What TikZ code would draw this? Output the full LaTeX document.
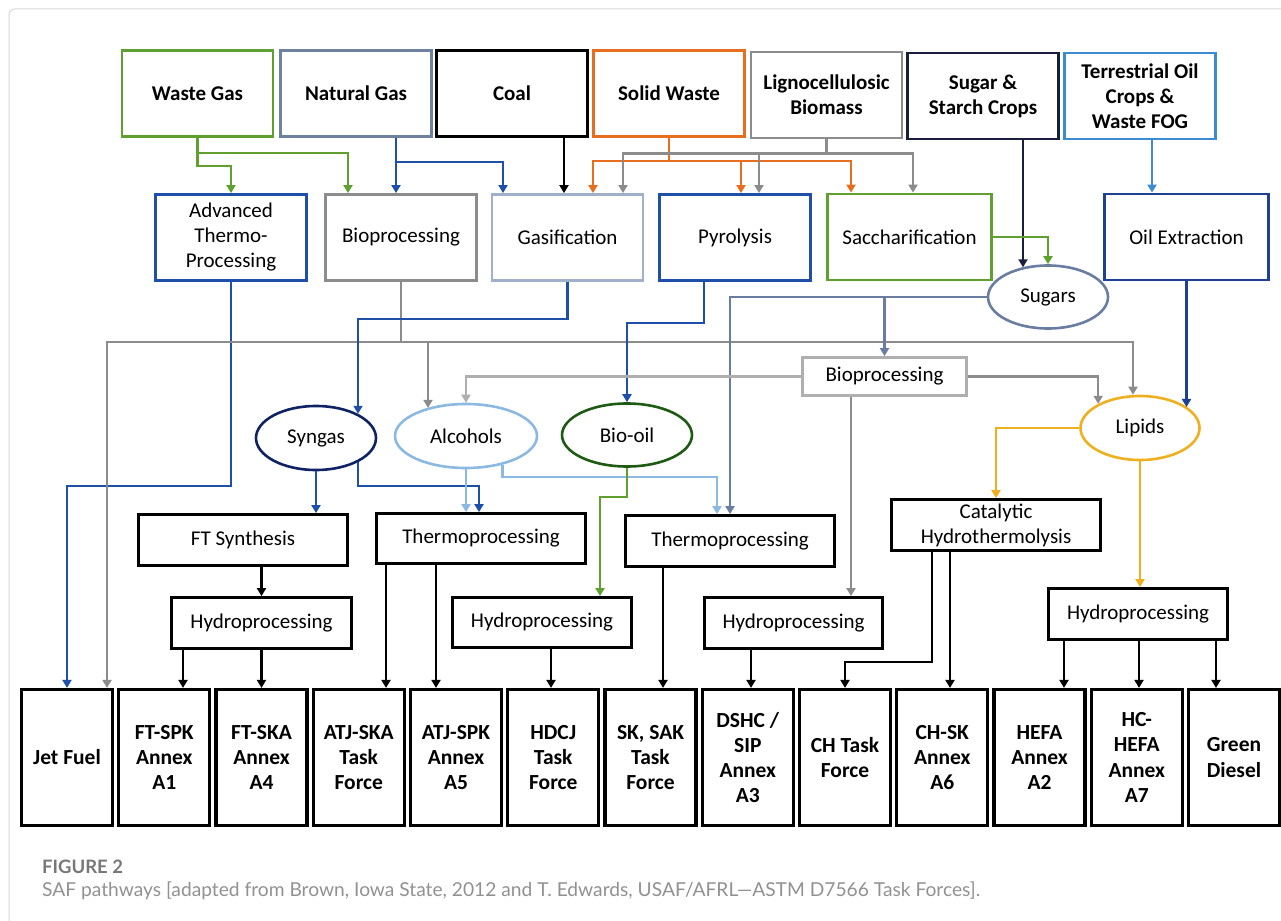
\documentclass[tikz,border=0pt]{standalone}
\usepackage{fontspec}
\setmainfont{Carlito}
\newfontfamily\capfont{Lato}
\usetikzlibrary{arrows.meta,shapes.geometric,calc}
\definecolor{cgreen}{RGB}{96,160,48}
\definecolor{cslate}{RGB}{110,130,160}
\definecolor{corange}{RGB}{230,110,30}
\definecolor{cgray}{RGB}{140,140,140}
\definecolor{cnavy}{RGB}{25,30,60}
\definecolor{cltblue}{RGB}{60,140,210}
\definecolor{cblue}{RGB}{30,80,170}
\definecolor{cgasif}{RGB}{160,176,200}
\definecolor{cdkblue}{RGB}{30,65,145}
\definecolor{csugar}{RGB}{105,125,160}
\definecolor{csyn}{RGB}{15,35,100}
\definecolor{calc}{RGB}{140,185,225}
\definecolor{cdkgreen}{RGB}{30,90,20}
\definecolor{cgold}{RGB}{240,175,30}
\definecolor{cltgray}{RGB}{175,175,175}
\definecolor{capgray}{RGB}{120,120,120}
\definecolor{capgray2}{RGB}{145,145,145}
\definecolor{framegray}{RGB}{215,215,215}
\tikzset{
  bx/.style={draw, line width=2.8pt, inner sep=1pt, align=center, font=\fontsize{21}{25}\selectfont},
  topbx/.style={bx, minimum width=151pt, minimum height=86pt, font=\bfseries\fontsize{21}{25}\selectfont},
  midbx/.style={bx, minimum width=151pt, minimum height=86pt},
  botbx/.style={draw, line width=3.2pt, inner sep=1pt, align=center, minimum width=91pt, minimum height=136pt, font=\bfseries\fontsize{21.5}{25.3}\selectfont},
  ell/.style={ellipse, draw, line width=2.6pt, inner sep=0pt, font=\fontsize{21}{25}\selectfont},
  arr/.style={-{Triangle[length=8pt,width=9pt]}, line width=2.6pt},
  ln/.style={line width=2.6pt}
}
\begin{document}
\begin{tikzpicture}[x=1pt,y=-1pt]
\useasboundingbox (0,0) rectangle (1281,920);
\draw[framegray, line width=1pt, rounded corners=6pt] (9,9) rectangle (1300,940);

% top row
\node[topbx, draw=cgreen] (wastegas) at (197.5,93.5) {Waste Gas};
\node[topbx, draw=cslate] (natgas) at (356,93.5) {Natural Gas};
\node[topbx, draw=black] (coal) at (512,93.5) {Coal};
\node[topbx, draw=corange] (solid) at (669,93.5) {Solid Waste};
\node[topbx, draw=cgray] (ligno) at (826.5,95) {Lignocellulosic\\Biomass};
\node[topbx, draw=cnavy] (sugarcrops) at (983,96) {Sugar \&\\Starch Crops};
\node[topbx, draw=cltblue] (terr) at (1140,96) {Terrestrial Oil\\Crops \&\\Waste FOG};

% second row
\node[midbx, draw=cblue] (adv) at (231,237.5) {Advanced\\Thermo-\\Processing};
\node[midbx, draw=cgray] (bioA) at (401,237.5) {Bioprocessing};
\node[midbx, draw=cgasif] (gasif) at (567.5,237.5) {Gasification};
\node[midbx, draw=cblue] (pyro) at (735,237.5) {Pyrolysis};
\node[midbx, draw=cgreen, minimum width=164pt] (sacch) at (909.5,237) {Saccharification};
\node[midbx, draw=cdkblue, minimum width=164pt] (oilex) at (1186.5,237) {Oil Extraction};

% ellipses
\node[ell, draw=csugar, minimum width=120pt, minimum height=63pt] (sugars) at (1048,297) {Sugars};
\node[ell, draw=csyn, minimum width=120pt, minimum height=64pt] (syngas) at (316,438) {Syngas};
\node[ell, draw=calc, minimum width=142pt, minimum height=64pt] (alcohols) at (466,436) {Alcohols};
\node[ell, draw=cdkgreen, minimum width=130pt, minimum height=63pt] (biooil) at (627,435) {Bio-oil};
\node[ell, draw=cgold, minimum width=119pt, minimum height=64pt] (lipids) at (1140,428) {Lipids};

\node[bx, draw=cltgray, minimum width=164pt, minimum height=38pt] (bioB) at (884.5,376.5) {Bioprocessing};

% processing boxes
\node[bx, minimum width=209pt, minimum height=51pt] (ftsyn) at (243,540) {FT Synthesis};
\node[bx, minimum width=209pt, minimum height=50pt] (thermoA) at (481,538.5) {Thermoprocessing};
\node[bx, minimum width=209pt, minimum height=51pt] (thermoB) at (730,541) {Thermoprocessing};
\node[bx, minimum width=209pt, minimum height=51pt] (catal) at (996,525) {Catalytic\\Hydrothermolysis};
\node[bx, minimum width=180pt, minimum height=51pt] (hydroA) at (261.5,623) {Hydroprocessing};
\node[bx, minimum width=179pt, minimum height=50pt] (hydroB) at (542,622.5) {Hydroprocessing};
\node[bx, minimum width=178pt, minimum height=51pt] (hydroC) at (793.5,623) {Hydroprocessing};
\node[bx, minimum width=179pt, minimum height=51pt] (hydroD) at (1138,614) {Hydroprocessing};

% bottom boxes
\node[botbx] (b0) at (67,757.5) {Jet Fuel};
\node[botbx] (b1) at (164.25,757.5) {FT-SPK\\Annex\\A1};
\node[botbx] (b2) at (261.5,757.5) {FT-SKA\\Annex\\A4};
\node[botbx] (b3) at (358.75,757.5) {ATJ-SKA\\Task\\Force};
\node[botbx] (b4) at (456,757.5) {ATJ-SPK\\Annex\\A5};
\node[botbx] (b5) at (553.25,757.5) {HDCJ\\Task\\Force};
\node[botbx] (b6) at (650.5,757.5) {SK, SAK\\Task\\Force};
\node[botbx] (b7) at (747.75,757.5) {DSHC /\\SIP\\Annex\\A3};
\node[botbx] (b8) at (845,757.5) {CH Task\\Force};
\node[botbx] (b9) at (942.25,757.5) {CH-SK\\Annex\\A6};
\node[botbx] (b10) at (1039.5,757.5) {HEFA\\Annex\\A2};
\node[botbx] (b11) at (1136.75,757.5) {HC-\\HEFA\\Annex\\A7};
\node[botbx] (b12) at (1234,757.5) {Green\\Diesel};

% top connectors
\draw[arr, cgreen] (wastegas.south) -- ++(0,15) -| ([xshift=-53pt]bioA.north);
\draw[arr, cgreen] (wastegas.south) -- ++(0,28) -| (adv.north);
\draw[arr, cblue] ([xshift=40pt]natgas.south) -- ([xshift=40pt]natgas.south |- bioA.north);
\draw[arr, cblue] ([xshift=40pt]natgas.south) -- ++(0,24) -| ([xshift=-64.5pt]gasif.north);
\draw[arr, black] ([xshift=52pt]coal.south) -- ([xshift=52pt]coal.south |- gasif.north);
\draw[ln, corange] (solid.south) -- ++(0,23) coordinate (sw);
\draw[arr, corange] (sw) -| ([xshift=25.5pt]gasif.north);
\draw[arr, corange] (sw) -| ([xshift=6pt]pyro.north);
\draw[arr, corange] (sw) -| ([xshift=-58.5pt]sacch.north);
\draw[ln, cgray] (ligno.south) -- ++(0,14) coordinate (lw);
\draw[arr, cgray] (lw) -| ([xshift=55.5pt]gasif.north);
\draw[arr, cgray] (lw) -| ([xshift=24pt]pyro.north);
\draw[arr, cgray] (lw) -| ([xshift=3.5pt]sacch.north);
\draw[arr, cnavy] ([xshift=40pt]sugarcrops.south) -- ([xshift=40pt]sugarcrops.south |- sugars.131);
\draw[arr, cgreen] (sacch.east) -| (sugars.north);
\draw[arr, cltblue] ([xshift=12pt]terr.south) -- ([xshift=12pt]terr.south |- oilex.north);

% middle connectors
\draw[arr, cblue] (adv.south) -- ++(0,204) -| (b0.north);
\draw[ln, cgray] (bioA.south) -- ++(0,60) coordinate (gj);
\draw[arr, cgray] (gj) -| ([xshift=40pt]b0.north);
\draw[arr, cgray] (gj) -| ([xshift=-7pt]lipids.north);
\draw[arr, cgray] ([xshift=27pt]bioA.south |- gj) -- ([xshift=27pt]bioA.south |- alcohols.144);
\draw[arr, cblue] (gasif.south) -- ++(0,37) -| (syngas.30);
\draw[arr, cblue] ([xshift=-31pt]pyro.south) -- ++(0,41) -| (biooil.north);
\draw[arr, csugar] (sugars.west) -| (thermoB.north);
\draw[arr, csugar] (sugars.west -| bioB.north) -- (bioB.north);
\draw[arr, cltgray] (bioB.west) -| (alcohols.north);
\draw[arr, cgray] (bioB.east) -| (lipids.150);
\draw[arr, cdkblue] (oilex.south) -- (oilex.south |- lipids.24);
\draw[arr, cgray] ([xshift=-33.5pt]bioB.south) -- ([xshift=-33.5pt]bioB.south |- hydroC.north);
\draw[arr, cgold] (lipids.west) -| (catal.north);
\draw[arr, cgold] (lipids.south) -- (lipids.south |- hydroD.north);
\draw[arr, cblue] (syngas.south) -- (syngas.south |- ftsyn.north);
\draw[arr, cblue] (syngas.-30) |- ($(thermoA.north)+(-2,-26)$) -- ($(thermoA.north)+(-2,0)$);
\draw[arr, calc] (alcohols.south) -- (alcohols.south |- thermoA.north);
\draw[arr, calc] (alcohols.-38) |- ($(thermoB.north)+(-13,-37)$) -- ($(thermoB.north)+(-13,0)$);
\draw[arr, cgreen] (biooil.south) |- ($(hydroB.north)+(58,-99)$) -- ($(hydroB.north)+(58,0)$);

% lower connectors
\draw[arr] (hydroA.north |- ftsyn.south) -- (hydroA.north);
\draw[arr] ([xshift=-78.5pt]hydroA.south) -- ([xshift=-78.5pt]hydroA.south |- b1.north);
\draw[arr] (hydroA.south) -- (hydroA.south |- b2.north);
\draw[arr] ([xshift=-95pt]thermoA.south) -- ([xshift=-95pt]thermoA.south |- b3.north);
\draw[arr] ([xshift=-45pt]thermoA.south) -- ([xshift=-45pt]thermoA.south |- b4.north);
\draw[arr] ([xshift=9pt]hydroB.south) -- ([xshift=9pt]hydroB.south |- b5.north);
\draw[arr] ([xshift=-67pt]thermoB.south) -- ([xshift=-67pt]thermoB.south |- b6.north);
\draw[arr] ([xshift=-42.5pt]hydroC.south) -- ([xshift=-42.5pt]hydroC.south |- b7.north);
\draw[arr] ([xshift=-64pt]catal.south) |- ($(b8.north)+(0,-26)$) -- (b8.north);
\draw[arr] ([xshift=-46pt]catal.south) -- ([xshift=-46pt]catal.south |- b9.north);
\draw[arr] ([xshift=-74pt]hydroD.south) -- ([xshift=-74pt]hydroD.south |- b10.north);
\draw[arr] ([xshift=1pt]hydroD.south) -- ([xshift=1pt]hydroD.south |- b11.north);
\draw[arr] ([xshift=78pt]hydroD.south) -- ([xshift=78pt]hydroD.south |- b12.north);

% caption
\node[anchor=base west, inner sep=0pt, text=capgray, font=\capfont\bfseries\fontsize{18.5}{22}\selectfont] (figlbl) at (42,873) {FIGURE 2};
\node[anchor=base west, inner sep=0pt, text=capgray2, font=\capfont\fontsize{19.2}{22}\selectfont] (caption) at (42,896) {SAF pathways [adapted from Brown, Iowa State, 2012 and T. Edwards, USAF/AFRL—ASTM D7566 Task Forces].};
\end{tikzpicture}
\end{document}
